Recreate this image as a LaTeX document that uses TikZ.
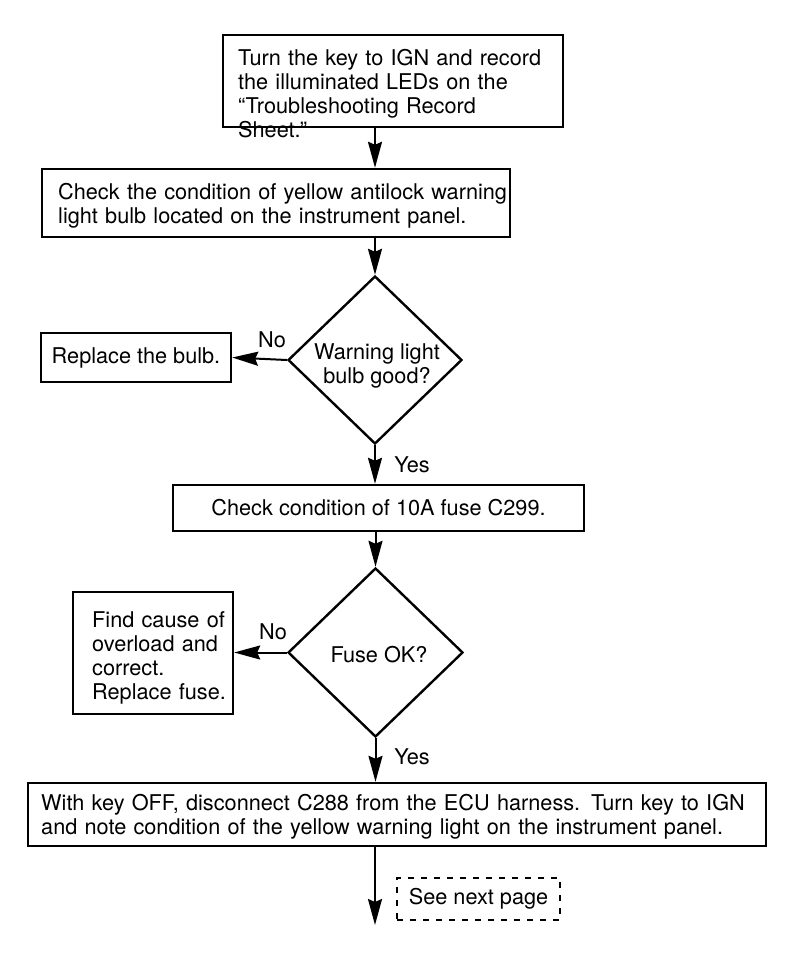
\documentclass[tikz,border=0pt]{standalone}
\usepackage{fontspec}
\setmainfont{TeX Gyre Heros}
\usetikzlibrary{shapes.geometric,arrows.meta}
\begin{document}
\begin{tikzpicture}[x=1pt,y=-1pt,
  font=\fontsize{21.7}{24}\selectfont,
  box/.style={draw, line width=2.4pt, rectangle, inner sep=0pt},
  dia/.style={draw, line width=2.4pt, diamond, inner sep=0pt},
  txt/.style={inner sep=0pt, anchor=base west, align=left},
  lbl/.style={inner sep=0pt},
  flow/.style={line width=2pt, -{Stealth[length=26pt, width=14pt, inset=3pt]}},
  dashbox/.style={draw, line width=1.8pt, dash pattern=on 6pt off 7pt, rectangle, inner sep=0pt}]
\useasboundingbox (0,0) rectangle (800,964);
% boxes
\node[box, minimum width=340pt, minimum height=92pt] (b1) at (393,81) {};
\node[txt, text width=320pt] (t1) at (238,65) {Turn the key to IGN and record\\the illuminated LEDs on the\\\textquotedblleft Troubleshooting Record\\Sheet.\textquotedblright};
\node[box, minimum width=468pt, minimum height=68pt] (b2) at (276,203) {};
\node[txt, text width=460pt] (t2) at (58,199) {Check the condition of yellow antilock warning\\light bulb located on the instrument panel.};
\node[dia, minimum width=174pt, minimum height=168pt] (d1) at (375,360) {};
\node[lbl, align=center] (d1t) at (377,366) {Warning light\\bulb good?};
\node[box, minimum width=190pt, minimum height=49pt] (rb) at (136,357.5) {Replace the bulb.};
\node[box, minimum width=411pt, minimum height=46pt] (b3) at (378.5,508) {Check condition of 10A fuse C299.};
\node[dia, minimum width=175pt, minimum height=169pt] (d2) at (375.5,652.5) {};
\node[lbl] (d2t) at (379,655) {Fuse OK?};
\node[box, minimum width=160pt, minimum height=122pt] (fb) at (153,653) {};
\node[txt, text width=150pt] (ft) at (92,627) {Find cause of\\overload and\\correct.\\Replace fuse.};
\node[box, minimum width=738pt, minimum height=63pt] (b5) at (397,814.5) {};
\node[txt, text width=730pt] (t5) at (41,810) {With key OFF, disconnect C288 from the ECU harness. Turn key to IGN\\and note condition of the yellow warning light on the instrument panel.};
\node[dashbox, minimum width=163pt, minimum height=42pt] (np) at (478.5,899) {See next page};
\coordinate (end) at (375,925);
% connectors
\draw[flow] (375,127) -- (b2.north -| 375,0);
\draw[flow] (b2.south -| 375,0) -- (d1.north);
\draw[flow] (d1.west) -- (rb.east);
\draw[flow] (d1.south) -- (b3.north -| d1.south);
\draw[flow] (b3.south -| d2.north) -- (d2.north);
\draw[flow] (d2.west) -- (fb.east |- d2.west);
\draw[flow] (d2.south) -- (b5.north -| d2.south);
\draw[flow] (b5.south -| end) -- (end);
% labels
\node[lbl] (no1) at (272,340) {No};
\node[lbl] (yes1) at (412,465) {Yes};
\node[lbl] (no2) at (273,632) {No};
\node[lbl] (yes2) at (412,757) {Yes};
\end{tikzpicture}
\end{document}
